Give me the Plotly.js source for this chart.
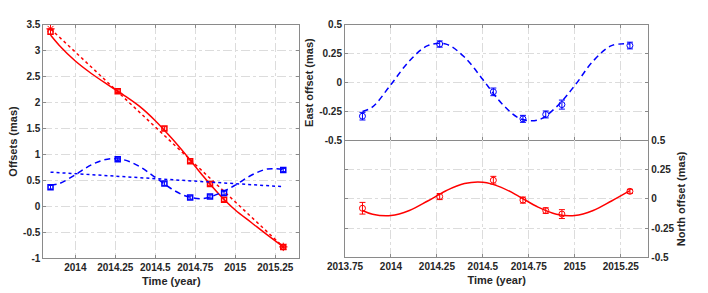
<!DOCTYPE html>
<html><head><meta charset="utf-8">
<script src="https://cdn.plot.ly/plotly-3.0.1.min.js"></script>
<style>html,body{margin:0;padding:0;background:#fff}#chart{width:708px;height:293px}</style>
</head><body><div id="chart"></div>
<script>
// observation epochs (year)
const epochs = [2013.845, 2014.265, 2014.557, 2014.718, 2014.842, 2014.93, 2015.30];
// left panel: total offsets (mas)
const northTotal = [3.365, 2.22, 1.50, 0.87, 0.43, 0.13, -0.78];
const eastTotal  = [0.37, 0.91, 0.44, 0.17, 0.19, 0.26, 0.70];
// right panel: residual offsets (mas)
const eastOff  = [-0.29, 0.333, -0.08, -0.313, -0.275, -0.19, 0.32];
const northOff = [-0.08, 0.02, 0.16, -0.01, -0.10, -0.13, 0.065];
const eastErr  = [0.033, 0.027, 0.033, 0.030, 0.030, 0.039, 0.029];
const northErr = [0.050, 0.026, 0.033, 0.026, 0.024, 0.038, 0.017];
// fitted model curves
const modelT = [2013.845, 2013.9, 2014.0, 2014.1, 2014.2, 2014.3, 2014.4, 2014.5, 2014.6, 2014.7, 2014.8, 2014.9, 2015.0, 2015.1, 2015.2, 2015.3];
const northModelTotal = [3.30, 3.10, 2.80, 2.56, 2.35, 2.15, 1.93, 1.65, 1.32, 0.96, 0.58, 0.23, -0.07, -0.31, -0.55, -0.78];
const eastModelTotal  = [0.41, 0.44, 0.61, 0.80, 0.91, 0.90, 0.77, 0.56, 0.34, 0.19, 0.15, 0.25, 0.41, 0.60, 0.72, 0.71];
const eastModel  = [-0.25, -0.21, -0.016, 0.186, 0.319, 0.332, 0.220, 0.026, -0.176, -0.309, -0.323, -0.210, -0.025, 0.186, 0.319, 0.333];
const northModel = [-0.099, -0.131, -0.142, -0.099, -0.018, 0.070, 0.131, 0.142, 0.099, 0.018, -0.070, -0.131, -0.142, -0.099, -0.018, 0.070];
// linear trends
const trendT = [2013.845, 2015.30];
const northTrend = [3.42, -0.78];
const eastTrend  = [0.66, 0.38];
// ticks
const leftXTicks = [2014, 2014.25, 2014.5, 2014.75, 2015, 2015.25];
const leftXLabels = ['2014', '2014.25', '2014.5', '2014.75', '2015', '2015.25'];
const rightXTicks = [2013.75, 2014, 2014.25, 2014.5, 2014.75, 2015, 2015.25];
const rightXLabels = ['2013.75', '2014', '2014.25', '2014.5', '2014.75', '2015', '2015.25'];
const leftYTicks = [-1, -0.5, 0, 0.5, 1, 1.5, 2, 2.5, 3, 3.5];
const leftYLabels = ['-1', '-0.5', '0', '0.5', '1', '1.5', '2', '2.5', '3', '3.5'];
const resYTicks = [-0.5, -0.25, 0, 0.25, 0.5];
const resYLabels = ['-0.5', '-0.25', '0', '0.25', '0.5'];

const RED = '#ff0000', BLUE = '#0000ff';
const tickFont = {family: 'Liberation Sans, Arial, sans-serif', size: 10, color: '#262626', weight: 'bold'};
const titleFont = {family: 'Liberation Sans, Arial, sans-serif', size: 11, color: '#262626', weight: 'bold'};

const traces = [
  // left panel
  {x: trendT, y: northTrend, xaxis: 'x', yaxis: 'y', mode: 'lines+markers', line: {color: RED, width: 1.5, dash: 'dot'},
   marker: {symbol: 'asterisk-open', size: 7, color: RED, line: {color: RED, width: 1}}, hoverinfo: 'skip'},
  {x: modelT, y: northModelTotal, xaxis: 'x', yaxis: 'y', mode: 'lines', line: {color: RED, width: 1.5, shape: 'spline'}},
  {x: epochs, y: northTotal, xaxis: 'x', yaxis: 'y', mode: 'markers',
   error_y: {type: 'data', array: northErr, color: RED, thickness: 1, width: 2},
   marker: {symbol: 'square-open', size: 5, color: RED, line: {color: RED, width: 1.5}}},
  {x: trendT, y: eastTrend, xaxis: 'x', yaxis: 'y', mode: 'lines', line: {color: BLUE, width: 1.5, dash: 'dot'}},
  {x: modelT, y: eastModelTotal, xaxis: 'x', yaxis: 'y', mode: 'lines', line: {color: BLUE, width: 1.5, dash: '6px,4px', shape: 'spline'}},
  {x: epochs, y: eastTotal, xaxis: 'x', yaxis: 'y', mode: 'markers',
   error_y: {type: 'data', array: eastErr, color: BLUE, thickness: 1, width: 2},
   marker: {symbol: 'square-open', size: 5, color: BLUE, line: {color: BLUE, width: 1.5}}},
  // right top: east
  {x: modelT, y: eastModel, xaxis: 'x2', yaxis: 'y2', mode: 'lines', line: {color: BLUE, width: 1.5, dash: '6px,4px', shape: 'spline'}},
  {x: epochs, y: eastOff, xaxis: 'x2', yaxis: 'y2', mode: 'markers',
   error_y: {type: 'data', array: eastErr, color: BLUE, thickness: 1, width: 3},
   marker: {symbol: 'circle-open', size: 6, color: BLUE, line: {color: BLUE, width: 1}}},
  // right bottom: north
  {x: modelT, y: northModel, xaxis: 'x3', yaxis: 'y3', mode: 'lines', line: {color: RED, width: 1.5, shape: 'spline'}},
  {x: epochs, y: northOff, xaxis: 'x3', yaxis: 'y3', mode: 'markers',
   error_y: {type: 'data', array: northErr, color: RED, thickness: 1, width: 3},
   marker: {symbol: 'circle-open', size: 6, color: RED, line: {color: RED, width: 1}}}
];

const axisBase = {
  showline: true, linecolor: '#8a8a8a', linewidth: 1, mirror: 'ticks',
  ticks: 'inside', ticklen: 3, tickcolor: '#8a8a8a', tickwidth: 1,
  showgrid: true, gridcolor: '#dcdcdc', griddash: 'dashdot', gridwidth: 1,
  zeroline: false, tickfont: tickFont, automargin: false, tickmode: 'array'
};

const layout = {
  width: 708, height: 293, margin: {l: 0, r: 0, t: 0, b: 0},
  paper_bgcolor: '#fff', plot_bgcolor: '#fff', showlegend: false,
  xaxis: Object.assign({}, axisBase, {domain: [0.0612, 0.4227], range: [2013.8, 2015.4], anchor: 'y',
    tickvals: leftXTicks, ticktext: leftXLabels, title: {text: 'Time (year)', font: titleFont, standoff: 4}}),
  yaxis: Object.assign({}, axisBase, {domain: [0.1184, 0.9157], range: [-1, 3.5], anchor: 'x',
    tickvals: leftYTicks, ticktext: leftYLabels, title: {text: 'Offsets (mas)', font: titleFont, standoff: 3}}),
  xaxis2: Object.assign({}, axisBase, {domain: [0.4873, 0.9157], range: [2013.75, 2015.4], anchor: 'y2',
    tickvals: rightXTicks, ticktext: rightXLabels, showticklabels: false}),
  yaxis2: Object.assign({}, axisBase, {domain: [0.5205, 0.9157], range: [-0.5, 0.5], anchor: 'x2',
    tickvals: resYTicks, ticktext: resYLabels, title: {text: 'East offset (mas)', font: titleFont, standoff: 3}}),
  xaxis3: Object.assign({}, axisBase, {domain: [0.4873, 0.9157], range: [2013.75, 2015.4], anchor: 'y3', mirror: false,
    tickvals: rightXTicks, ticktext: rightXLabels, title: {text: 'Time (year)', font: titleFont, standoff: 4}}),
  yaxis3: Object.assign({}, axisBase, {domain: [0.1218, 0.5205], range: [-0.5, 0.5], anchor: 'x3', side: 'right',
    tickvals: resYTicks, ticktext: resYLabels, title: {text: 'North offset (mas)', font: titleFont, standoff: 2}})
};

Plotly.newPlot('chart', traces, layout, {displayModeBar: false, staticPlot: true});
</script></body></html>
